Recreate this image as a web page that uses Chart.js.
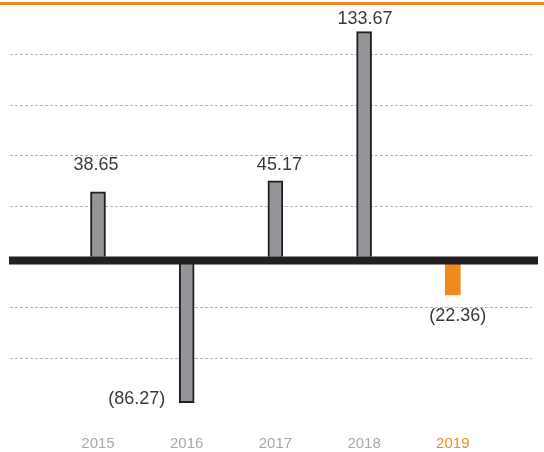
<!DOCTYPE html>
<html>
<head>
<meta charset="utf-8">
<script src="https://cdn.jsdelivr.net/npm/chart.js@4"></script>
<style>
  html, body { margin: 0; padding: 0; background: #fff; }
  canvas { display: block; }
</style>
</head>
<body>
<canvas id="chart" width="544" height="452"></canvas>
<script>
// years along the bottom
const years = ["2015", "2016", "2017", "2018", "2019"];
const yearIndex = [0, 1, 2, 3, 4];
// values, negatives shown in brackets
const values = [38.65, -86.27, 45.17, 133.67, -22.36];

const GREY_BAR = "#939598";
const DARK = "#231f20";
const ORANGE = "#f0891e";

// label placement relative to bar end (dx, dy)
const labelShift = [[-2, -27], [-50, -4], [4, -16], [1, -13], [5, 21]];

function fmt(v) {
  return v < 0 ? "(" + Math.abs(v).toFixed(2) + ")" : v.toFixed(2);
}

// thick zero line + orange top line + value labels
const extras = {
  id: "extras",
  afterDatasetsDraw(chart) {
    const ctx = chart.ctx;
    const y = chart.scales.y;
    const y0 = y.getPixelForValue(0);
    ctx.save();
    ctx.fillStyle = DARK;
    ctx.fillRect(9, Math.round(y0) - 0.5, 529, 8);
    ctx.fillStyle = ORANGE;
    ctx.fillRect(0, Math.round(y.getPixelForValue(y.max)) - 2, chart.width, 3);

    ctx.font = "18px 'Liberation Sans', Arial, sans-serif";
    ctx.fillStyle = "#3a3a3a";
    ctx.textAlign = "center";
    ctx.textBaseline = "middle";
    const meta = chart.getDatasetMeta(0);
    meta.data.forEach((bar, i) => {
      const s = labelShift[i];
      ctx.fillText(fmt(values[i]), bar.x + s[0], bar.y + s[1]);
    });
    ctx.restore();
  }
};

new Chart(document.getElementById("chart"), {
  type: "bar",
  data: {
    datasets: [{
      data: yearIndex.map((x, i) => ({ x: x, y: values[i] })),
      backgroundColor: years.map((y, i) => (i === 4 ? ORANGE : GREY_BAR)),
      borderColor: DARK,
      borderWidth: years.map((y, i) => (i === 4 ? 0 : 2)),
      barThickness: 15
    }]
  },
  options: {
    responsive: false,
    animation: false,
    layout: { padding: { left: 10, right: 12, top: 4, bottom: 0 } },
    plugins: { legend: { display: false }, tooltip: { enabled: false } },
    scales: {
      x: {
        type: "linear",
        offset: false,
        min: -0.992,
        max: 4.893,
        grid: { display: false, drawTicks: false },
        border: { display: false },
        afterBuildTicks(scale) {
          scale.ticks = yearIndex.map(v => ({ value: v }));
        },
        afterFit(scale) {
          scale.height = 43;
        },
        ticks: {
          autoSkip: false,
          maxRotation: 0,
          padding: 26,
          font: { family: "'Liberation Sans', Arial, sans-serif", size: 15 },
          color: (c) => (c.tick && c.tick.value === 4 ? ORANGE : "#a7a9ac"),
          callback: (v) => years[v]
        }
      },
      y: {
        min: -90,
        max: 150,
        ticks: { display: false, stepSize: 30 },
        border: { display: false, dash: [3, 2] },
        grid: {
          drawTicks: false,
          lineWidth: 1,
          color: (c) => {
            const v = c.tick ? c.tick.value : null;
            return (v === 0 || v === 150 || v === -90) ? "rgba(0,0,0,0)" : "#b3b3b3";
          }
        }
      }
    }
  },
  plugins: [extras]
});
</script>
</body>
</html>
